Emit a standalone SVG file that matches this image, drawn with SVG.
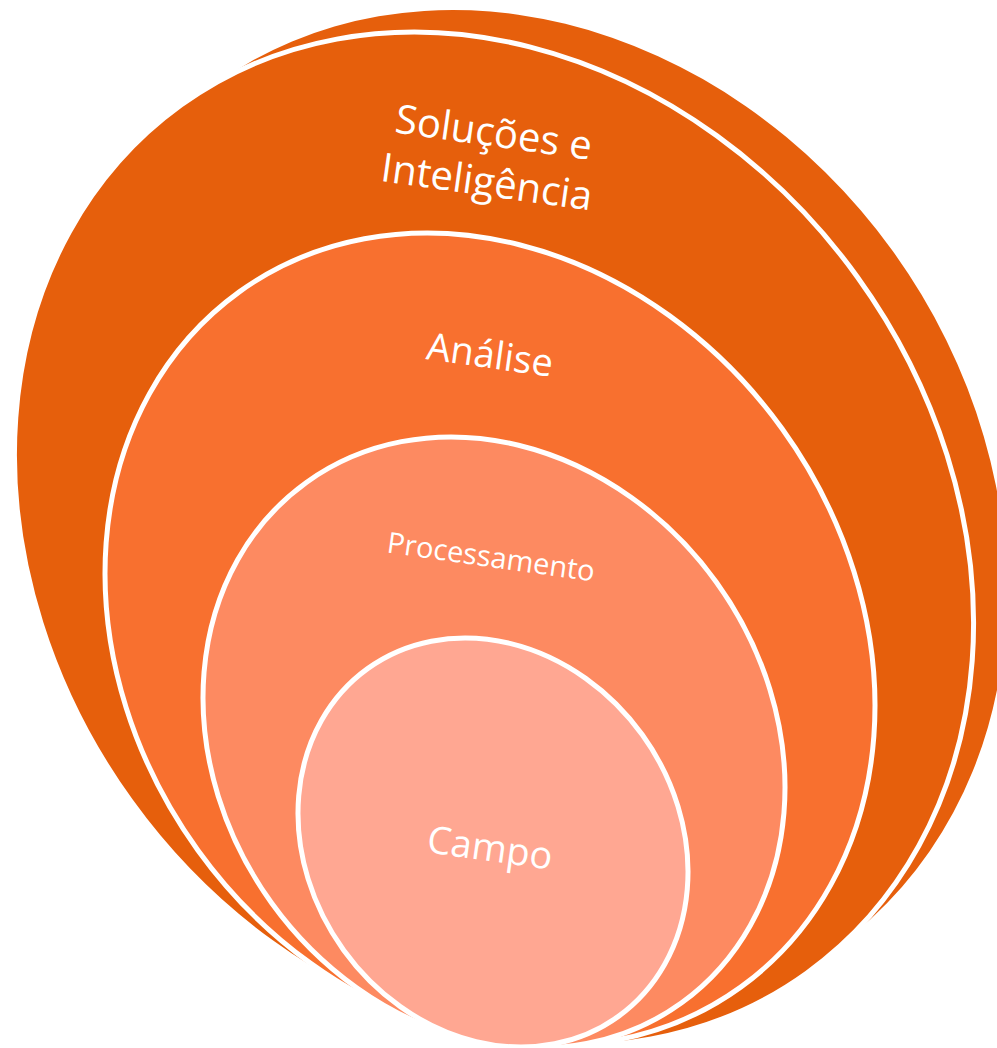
<svg xmlns="http://www.w3.org/2000/svg" width="997" height="1048" viewBox="0 0 997 1048">
<style>
.ring{stroke:#FFFFFF;stroke-width:5}
.lbl{font-family:"Open Sans","DejaVu Sans",sans-serif;fill:#FFFFFF;text-anchor:middle}
</style>
<rect width="997" height="1048" fill="#FFFFFF"/>
<g id="back">
<ellipse cx="525.3" cy="516" rx="531.5" ry="453" transform="rotate(54.2 525.3 516)" fill="#E65F0C"/>
</g>
<g id="solucoes">
<ellipse class="ring" cx="494" cy="539" rx="535" ry="448" transform="rotate(54.2 494 539)" fill="#E65F0C"/>
<text class="lbl" font-size="40" transform="rotate(8 490 160)"><tspan x="490" y="146">Soluções e</tspan><tspan x="490" y="196">Inteligência</tspan></text>
</g>
<g id="analise">
<ellipse class="ring" cx="490" cy="639.5" rx="428.6" ry="360.2" transform="rotate(54.2 490 639.5)" fill="#F8702F"/>
<text class="lbl" font-size="38" x="490" y="368" transform="rotate(8 490 355)">Análise</text>
</g>
<g id="processamento">
<ellipse class="ring" cx="494" cy="742.6" rx="320.8" ry="274.2" transform="rotate(54.2 494 742.6)" fill="#FD8A61"/>
<text class="lbl" font-size="29" x="491" y="567" transform="rotate(8 491 557)">Processamento</text>
</g>
<g id="campo">
<ellipse class="ring" cx="493" cy="842.5" rx="214.4" ry="184.1" transform="rotate(54.2 493 842.5)" fill="#FFA792"/>
<text class="lbl" font-size="38" x="490" y="861" transform="rotate(8 490 848)">Campo</text>
</g>
<g id="connectors"/>
</svg>
